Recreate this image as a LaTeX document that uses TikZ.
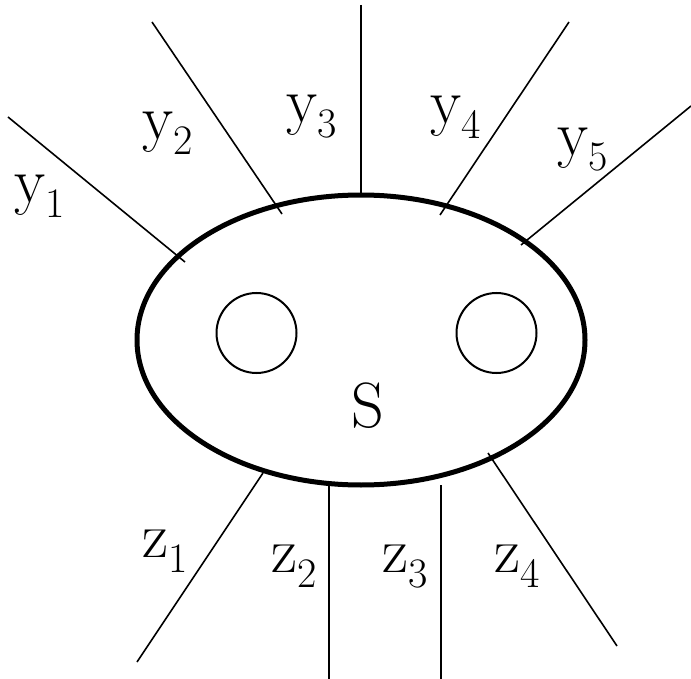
\documentclass[tikz,border=0pt]{standalone}
\usetikzlibrary{shapes.geometric}
\newcommand{\lab}[2]{#1\raisebox{-15pt}{\fontsize{42}{42}\selectfont #2}}
\begin{document}
\begin{tikzpicture}[x=1pt,y=-1pt,
  thin line/.style={line width=1.6pt},
  lbl/.style={anchor=base west,inner sep=0pt,font=\rmfamily\fontsize{64}{70}\selectfont}]
\useasboundingbox (0,0) rectangle (691,679);
% main body
\node[draw,ellipse,line width=5pt,minimum width=448pt,minimum height=290pt,inner sep=0pt] (body) at (361,340) {};
\node[draw,circle,line width=2pt,minimum size=80pt,inner sep=0pt] (c1) at (256.5,333) {};
\node[draw,circle,line width=2pt,minimum size=80pt,inner sep=0pt] (c2) at (496.5,333) {};
\node[lbl,anchor=center] (s) at (368,406) {S};
% endpoints
\coordinate (y1a) at (8,117);   \coordinate (y1b) at (185,262);
\coordinate (y2a) at (152,22);  \coordinate (y2b) at (282,214);
\coordinate (y3a) at (361,5);   \coordinate (y3b) at (361,196);
\coordinate (y4a) at (569,22);  \coordinate (y4b) at (440,215);
\coordinate (y5a) at (691,106); \coordinate (y5b) at (521,245);
\coordinate (z1a) at (263,473); \coordinate (z1b) at (137,662);
\coordinate (z2a) at (329,485); \coordinate (z2b) at (329,679);
\coordinate (z3a) at (441,485); \coordinate (z3b) at (441,679);
\coordinate (z4a) at (488,453); \coordinate (z4b) at (617,646);
\foreach \p in {y1,y2,y3,y4,y5,z1,z2,z3,z4}
  \draw[thin line] (\p a) -- (\p b);
% labels
\node[lbl] (ly1) at (14,203) {\lab{y}{1}};
\node[lbl] (ly2) at (142,140) {\lab{y}{2}};
\node[lbl] (ly3) at (286,123) {\lab{y}{3}};
\node[lbl] (ly4) at (430,124) {\lab{y}{4}};
\node[lbl] (ly5) at (557,156) {\lab{y}{5}};
\node[lbl] (lz1) at (142,557) {\lab{z}{1}};
\node[lbl] (lz2) at (271,572) {\lab{z}{2}};
\node[lbl] (lz3) at (382,572) {\lab{z}{3}};
\node[lbl] (lz4) at (494,572) {\lab{z}{4}};
\end{tikzpicture}
\end{document}
